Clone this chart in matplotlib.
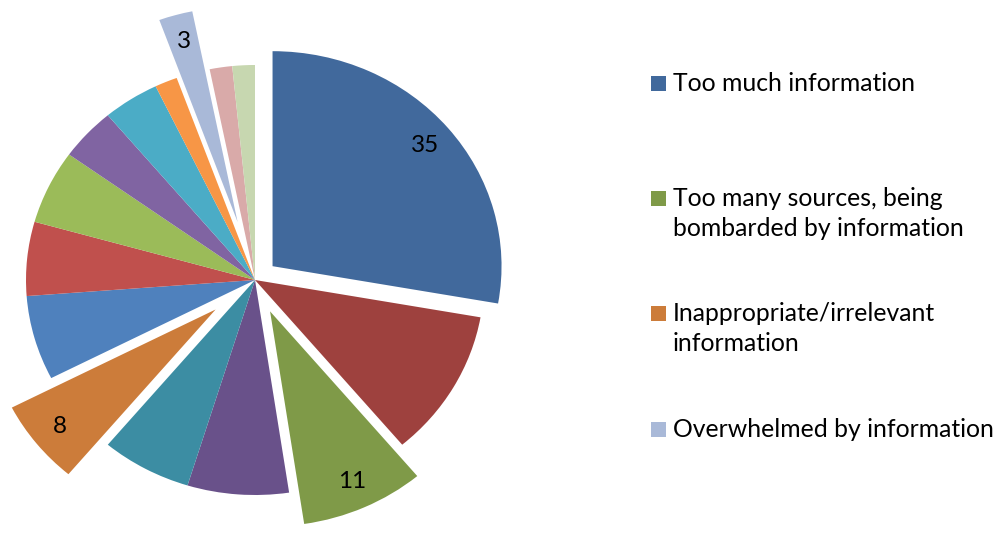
import matplotlib
matplotlib.use('Agg')
import matplotlib.pyplot as plt
from matplotlib.patches import Rectangle

# slice values, clockwise from 12 o'clock
values = [35, 14, 11, 9, 8, 8, 8, 7, 7, 5, 5, 2, 3, 2, 2]
colors = ['#41699C', '#9E413E', '#7F9A48', '#69518A', '#3C8DA3', '#CC7C3A',
          '#4F81BD', '#C0504D', '#9BBB59', '#8064A2', '#4BACC6', '#F79646',
          '#A9B9D8', '#D9AAA9', '#C7D7B0']
explode = [0.1, 0, 0.16, 0, 0, 0.22, 0, 0, 0, 0, 0, 0, 0.28, 0, 0]
labelled = [0, 2, 5, 12]   # slices with a data label / legend entry
legend_names = ['Too much information',
                'Too many sources, being\nbombarded by information',
                'Inappropriate/irrelevant\ninformation',
                'Overwhelmed by information']

plt.rcParams['font.family'] = ['Lato', 'DejaVu Sans']

W, H = 999, 555
fig = plt.figure(figsize=(W / 100, H / 100), dpi=100)

# pie area: centre at (255, 280) px, radius 229 px wide, 215 px tall
cx, cy, rx, ry = 255, 280, 229, 215
ax = fig.add_axes([0, 0, 520 / W, 1])
wedges, texts, autotexts = ax.pie(values, colors=colors, explode=explode,
                                  startangle=90, counterclock=False,
                                  autopct=lambda p: '', pctdistance=0.87,
                                  wedgeprops=dict(linewidth=0))
for i in labelled:
    autotexts[i].set_text(str(values[i]))
    autotexts[i].set_fontsize(17.5)
    autotexts[i].set_color('black')
ax.set_aspect('auto')
ax.set_xlim(-cx / rx, (520 - cx) / rx)
ax.set_ylim(-(H - cy) / ry, cy / ry)
ax.axis('off')

# legend drawn by hand (Excel layout)
baselines = [90.7, 205.7, 321, 436.7]
pitch = 30
for i, name, yb in zip(labelled, legend_names, baselines):
    fig.patches.append(Rectangle((651 / W, (H - yb) / H), 15 / W, 15 / H,
                                 transform=fig.transFigure,
                                 facecolor=colors[i], edgecolor='none'))
    for k, line in enumerate(name.split('\n')):
        fig.text(673 / W, (H - yb - k * pitch) / H, line, fontsize=17.8,
                 va='baseline', ha='left', color='black')

plt.savefig('out.png', dpi=100)
